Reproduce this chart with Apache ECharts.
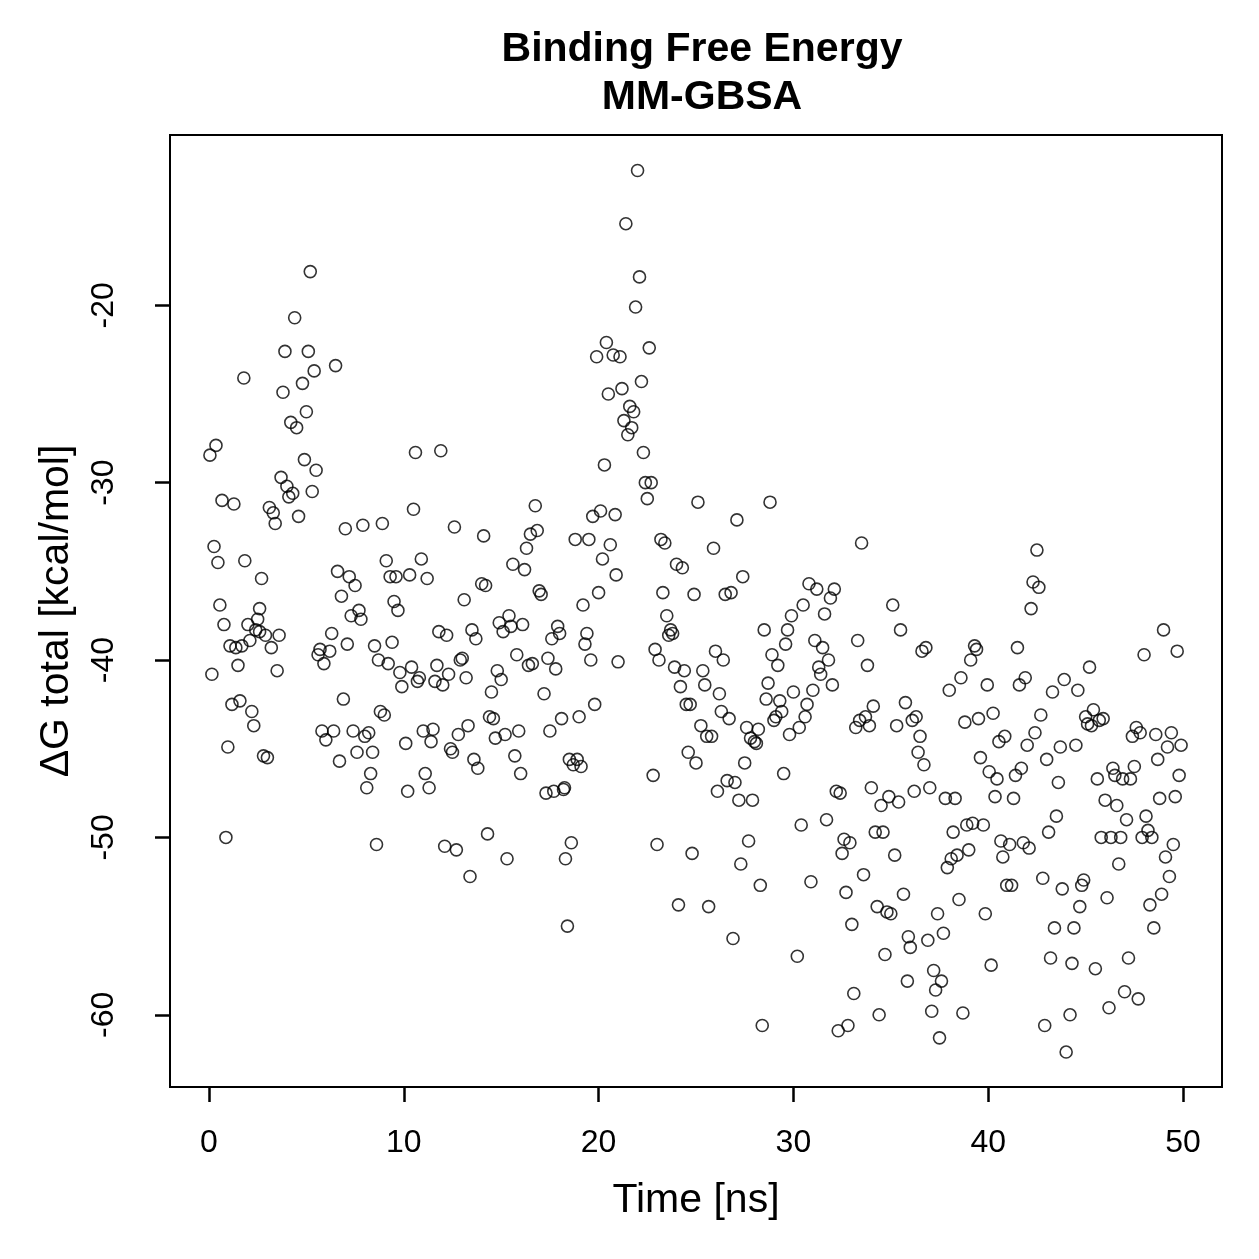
<!DOCTYPE html>
<html>
<head>
<meta charset="utf-8">
<script src="https://cdn.jsdelivr.net/npm/echarts@6/dist/echarts.min.js"></script>
<style>
  html, body { margin: 0; padding: 0; background: #fff; }
  #main { width: 1259px; height: 1259px; }
</style>
</head>
<body>
<div id="main"></div>
<script>
// Time [ns] and ΔG total [kcal/mol]
const time = [
  0.05, 0.15, 0.26, 0.36, 0.46, 0.56, 0.67, 0.77, 0.87, 0.97, 1.08, 1.18, 1.28, 1.38, 1.49, 1.59, 1.69, 1.79, 1.84, 2.0,
  2.1, 2.2, 2.3, 2.4, 2.5, 2.6, 2.6, 2.7, 2.8, 2.9, 3.0, 3.1, 3.2, 3.3, 3.4, 3.5, 3.6, 3.7, 3.8, 3.9,
  4.0, 4.1, 4.2, 4.3, 4.4, 4.5, 4.6, 4.8, 4.9, 5.0, 5.1, 5.2, 5.3, 5.4, 5.5, 5.6, 5.7, 5.8, 5.9, 6.0,
  6.2, 6.3, 6.4, 6.5, 6.6, 6.7, 6.8, 6.9, 7.0, 7.1, 7.2, 7.3, 7.4, 7.5, 7.6, 7.7, 7.8, 7.9, 8.0, 8.1,
  8.2, 8.3, 8.4, 8.5, 8.6, 8.7, 8.8, 8.9, 9.0, 9.1, 9.2, 9.3, 9.4, 9.5, 9.6, 9.7, 9.8, 9.9, 10.1, 10.2,
  10.3, 10.4, 10.5, 10.6, 10.7, 10.8, 10.9, 11.0, 11.1, 11.2, 11.3, 11.4, 11.5, 11.6, 11.7, 11.8, 11.9, 12.0, 12.1, 12.2,
  12.3, 12.4, 12.5, 12.6, 12.7, 12.8, 12.9, 13.0, 13.1, 13.2, 13.3, 13.4, 13.5, 13.6, 13.7, 13.8, 14.0, 14.1, 14.2, 14.3,
  14.4, 14.5, 14.6, 14.7, 14.8, 14.9, 15.0, 15.1, 15.2, 15.3, 15.4, 15.5, 15.6, 15.7, 15.8, 15.9, 16.0, 16.1, 16.2, 16.3,
  16.4, 16.5, 16.6, 16.75, 16.85, 16.95, 17.05, 17.2, 17.3, 17.4, 17.5, 17.6, 17.7, 17.8, 17.9, 18.0, 18.1, 18.2, 18.25, 18.3,
  18.4, 18.5, 18.6, 18.7, 18.8, 18.9, 19.0, 19.1, 19.2, 19.3, 19.4, 19.5, 19.6, 19.7, 19.8, 19.9, 20.0, 20.1, 20.2, 20.3,
  20.4, 20.5, 20.6, 20.75, 20.85, 20.9, 21.0, 21.1, 21.2, 21.3, 21.4, 21.5, 21.6, 21.7, 21.8, 21.9, 22.0, 22.1, 22.2, 22.3,
  22.4, 22.5, 22.6, 22.7, 22.8, 22.9, 23.0, 23.1, 23.2, 23.3, 23.4, 23.5, 23.6, 23.7, 23.8, 23.9, 24.0, 24.1, 24.2, 24.3,
  24.4, 24.5, 24.6, 24.7, 24.8, 24.9, 25.0, 25.1, 25.25, 25.35, 25.45, 25.55, 25.65, 25.8, 25.9, 26.0, 26.1, 26.2, 26.3, 26.4,
  26.5, 26.6, 26.7, 26.8, 26.9, 27.0, 27.1, 27.2, 27.3, 27.4, 27.5, 27.6, 27.7, 27.8, 27.9, 28.0, 28.1, 28.2, 28.3, 28.4,
  28.5, 28.6, 28.7, 28.8, 28.9, 29.0, 29.1, 29.2, 29.3, 29.4, 29.5, 29.6, 29.7, 29.8, 29.9, 30.0, 30.2, 30.3, 30.4, 30.5,
  30.6, 30.7, 30.8, 30.9, 31.0, 31.1, 31.2, 31.3, 31.4, 31.5, 31.6, 31.7, 31.8, 31.9, 32.0, 32.1, 32.2, 32.3, 32.4, 32.5,
  32.6, 32.7, 32.8, 32.9, 33.0, 33.1, 33.2, 33.3, 33.4, 33.5, 33.6, 33.7, 33.8, 33.9, 34.0, 34.1, 34.2, 34.3, 34.4, 34.5,
  34.6, 34.7, 34.8, 34.9, 35.0, 35.1, 35.2, 35.3, 35.4, 35.5, 35.65, 35.75, 35.85, 35.9, 36.0, 36.1, 36.2, 36.3, 36.4, 36.5,
  36.6, 36.7, 36.8, 36.9, 37.0, 37.1, 37.2, 37.3, 37.4, 37.5, 37.6, 37.7, 37.8, 37.9, 38.0, 38.1, 38.2, 38.3, 38.4, 38.5,
  38.6, 38.7, 38.8, 38.9, 39.0, 39.1, 39.2, 39.3, 39.4, 39.5, 39.6, 39.75, 39.85, 39.95, 40.05, 40.15, 40.25, 40.35, 40.45, 40.55,
  40.65, 40.75, 40.85, 40.95, 41.1, 41.2, 41.3, 41.4, 41.5, 41.6, 41.7, 41.8, 41.9, 42.0, 42.1, 42.2, 42.3, 42.4, 42.5, 42.6,
  42.7, 42.8, 42.9, 43.0, 43.1, 43.2, 43.3, 43.4, 43.5, 43.6, 43.7, 43.8, 43.9, 44.0, 44.2, 44.3, 44.4, 44.5, 44.6, 44.7,
  44.8, 44.9, 45.0, 45.1, 45.2, 45.3, 45.4, 45.5, 45.6, 45.7, 45.8, 45.9, 46.0, 46.1, 46.2, 46.3, 46.4, 46.5, 46.6, 46.7,
  46.8, 46.9, 47.0, 47.1, 47.2, 47.3, 47.4, 47.5, 47.6, 47.7, 47.8, 47.9, 48.0, 48.1, 48.2, 48.3, 48.4, 48.5, 48.6, 48.7,
  48.8, 48.9, 49.0, 49.1, 49.2, 49.3, 49.4, 49.5, 49.6, 49.7, 49.8, 49.9
];
const dG = [
  -28.45, -40.8, -33.6, -27.9, -34.5, -36.9, -31.0, -38.0, -50.0, -44.9, -39.2, -42.5, -31.2, -39.3, -40.3, -42.3, -39.2, -24.1, -34.4, -38.0,
  -38.9, -42.9, -43.7, -38.3, -37.7, -37.1, -38.4, -35.4, -45.4, -38.6, -45.5, -31.4, -39.3, -31.7, -32.3, -40.6, -38.6, -29.7, -24.9, -22.6,
  -30.2, -30.8, -26.6, -30.6, -20.7, -26.9, -31.9, -24.4, -28.7, -26.0, -22.6, -18.1, -30.5, -23.7, -29.3, -39.7, -39.4, -44.0, -40.2, -44.5,
  -39.5, -38.5, -44.0, -23.4, -35.0, -45.7, -36.4, -42.2, -32.6, -39.1, -35.3, -37.5, -44.0, -35.8, -45.2, -37.2, -37.7, -32.4, -44.3, -47.2,
  -44.1, -46.4, -45.2, -39.2, -50.4, -40.0, -42.9, -32.3, -43.1, -34.4, -40.2, -35.3, -39.0, -36.7, -35.3, -37.2, -40.7, -41.5, -44.7, -47.4,
  -35.2, -40.4, -31.5, -28.3, -41.2, -41.0, -34.3, -44.0, -46.4, -35.4, -47.2, -44.6, -43.9, -41.2, -40.3, -38.4, -28.2, -41.4, -50.5, -38.6,
  -40.8, -45.0, -45.2, -32.5, -50.7, -44.2, -40.0, -39.9, -36.6, -41.0, -43.7, -52.2, -38.3, -45.6, -38.8, -46.1, -35.7, -33.0, -35.8, -49.8,
  -43.2, -41.8, -43.3, -44.4, -40.6, -37.9, -41.1, -38.4, -44.2, -51.2, -37.5, -38.1, -34.6, -45.4, -39.7, -44.0, -46.4, -38.0, -34.9, -33.7,
  -40.3, -32.9, -40.2, -31.3, -32.7, -36.1, -36.3, -41.9, -47.5, -39.9, -44.0, -38.8, -47.4, -40.5, -38.1, -38.5, -43.3, -47.3, -47.2, -51.2,
  -55.0, -45.6, -50.3, -45.9, -33.2, -45.6, -43.2, -46.0, -36.9, -39.1, -38.5, -33.2, -40.0, -31.9, -42.5, -22.9, -36.2, -31.6, -34.3, -29.0,
  -22.1, -25.0, -33.5, -22.8, -31.8, -35.2, -40.1, -22.9, -24.7, -26.5, -15.4, -27.3, -25.7, -26.9, -26.0, -20.1, -12.4, -18.4, -24.3, -28.3,
  -30.0, -30.9, -22.4, -30.0, -46.5, -39.4, -50.4, -40.0, -33.2, -36.2, -33.4, -37.5, -38.6, -38.3, -38.5, -40.4, -34.6, -53.8, -41.5, -34.8,
  -40.6, -42.5, -45.2, -42.5, -50.9, -36.3, -45.8, -31.1, -43.7, -40.6, -41.4, -44.3, -53.9, -44.3, -33.7, -39.5, -47.4, -41.9, -42.9, -40.0,
  -36.3, -46.8, -43.3, -36.2, -55.7, -46.9, -32.1, -47.9, -51.5, -35.3, -45.8, -43.8, -50.2, -44.4, -47.9, -44.6, -44.7, -43.9, -52.7, -60.6,
  -38.3, -42.2, -41.3, -31.1, -39.7, -43.4, -43.2, -40.3, -42.3, -42.9, -46.4, -39.1, -38.3, -44.2, -37.5, -41.8, -56.7, -43.8, -49.3, -36.9,
  -43.2, -42.5, -35.7, -52.5, -41.7, -38.9, -36.0, -40.4, -40.8, -39.3, -37.4, -49.0, -40.0, -36.5, -41.4, -36.0, -47.4, -60.9, -47.5, -50.9,
  -50.1, -53.1, -60.6, -50.3, -54.9, -58.8, -43.8, -38.9, -43.4, -33.4, -52.1, -43.2, -40.3, -43.7, -47.2, -42.6, -49.7, -53.9, -60.0, -48.2,
  -49.7, -56.6, -54.2, -47.7, -54.3, -36.9, -51.0, -43.7, -48.0, -38.3, -53.2, -42.4, -58.1, -55.6, -56.2, -43.4, -47.4, -43.2, -45.2, -44.3,
  -39.5, -45.9, -39.3, -55.8, -47.2, -59.8, -57.5, -58.6, -54.3, -61.3, -58.1, -55.4, -47.8, -51.7, -41.7, -51.2, -49.7, -47.8, -51.0, -53.5,
  -41.0, -59.9, -43.5, -49.3, -50.7, -40.0, -49.2, -39.2, -39.4, -43.3, -45.5, -49.3, -54.3, -41.4, -46.3, -57.2, -43.0, -47.7, -46.7, -44.6,
  -50.2, -51.1, -44.3, -52.7, -50.4, -52.7, -47.8, -46.5, -39.3, -41.4, -46.1, -50.3, -41.0, -44.8, -50.6, -37.1, -35.6, -44.1, -33.8, -35.9,
  -43.1, -52.3, -60.6, -45.6, -49.7, -56.8, -41.8, -55.1, -48.8, -46.9, -44.9, -52.9, -41.1, -62.1, -60.0, -57.1, -55.1, -44.8, -41.7, -53.9,
  -52.7, -52.4, -43.2, -43.6, -40.4, -43.7, -42.8, -57.4, -46.7, -43.4, -50.0, -43.3, -47.9, -53.4, -59.6, -50.0, -46.1, -46.5, -48.2, -51.5,
  -50.0, -46.7, -58.7, -49.0, -56.8, -46.7, -44.3, -46.0, -43.8, -59.1, -44.1, -50.0, -39.7, -48.8, -49.6, -53.8, -50.0, -55.1, -44.2, -45.6,
  -47.8, -53.2, -38.3, -51.1, -44.9, -52.2, -44.1, -50.4, -47.7, -39.5, -46.5, -44.8
];
const xTicks = [0, 10, 20, 30, 40, 50];
const yTicks = [-60, -50, -40, -30, -20];

const points = time.map((t, i) => [t, dG[i]]);

const chart = echarts.init(document.getElementById('main'));
const font = 'Liberation Sans, Arial, Helvetica, sans-serif';

chart.setOption({
  animation: false,
  backgroundColor: '#fff',
  title: {
    text: 'Binding Free Energy\nMM-GBSA',
    left: 697,
    top: 21,
    textAlign: 'center',
    textStyle: { fontFamily: font, fontSize: 41, fontWeight: 'bold', color: '#000', lineHeight: 48 }
  },
  grid: {
    left: 170, top: 135, width: 1052, height: 952,
    show: true, borderColor: '#000', borderWidth: 2, backgroundColor: 'transparent'
  },
  xAxis: {
    type: 'value',
    min: -2, max: 52,
    name: 'Time [ns]',
    nameLocation: 'middle',
    nameGap: 93,
    nameMoveOverlap: false,
    nameTextStyle: { fontFamily: font, fontSize: 41, color: '#000' },
    axisLine: { show: true, onZero: false, lineStyle: { color: '#000', width: 2 } },
    splitLine: { show: false },
    axisTick: { show: true, length: 15, inside: false, customValues: xTicks, lineStyle: { color: '#000', width: 2.5 } },
    axisLabel: { customValues: xTicks, margin: 40, fontFamily: font, fontSize: 32, color: '#000' }
  },
  yAxis: {
    type: 'value',
    min: -64.07, max: -10.4,
    name: 'ΔG total [kcal/mol]',
    nameLocation: 'middle',
    nameGap: 93,
    nameRotate: 90,
    nameMoveOverlap: false,
    nameTextStyle: { fontFamily: font, fontSize: 41, color: '#000' },
    axisLine: { show: true, onZero: false, lineStyle: { color: '#000', width: 2 } },
    splitLine: { show: false },
    axisTick: { show: true, length: 15, inside: false, customValues: yTicks, lineStyle: { color: '#000', width: 2.5 } },
    axisLabel: { customValues: yTicks, rotate: 90, margin: 50, fontFamily: font, fontSize: 32, color: '#000' }
  },
  series: [{
    type: 'scatter',
    data: points,
    symbol: 'circle',
    symbolSize: 12,
    itemStyle: { color: 'rgba(0,0,0,0)', borderColor: '#000', borderWidth: 1.6 }
  }]
});
</script>
</body>
</html>
